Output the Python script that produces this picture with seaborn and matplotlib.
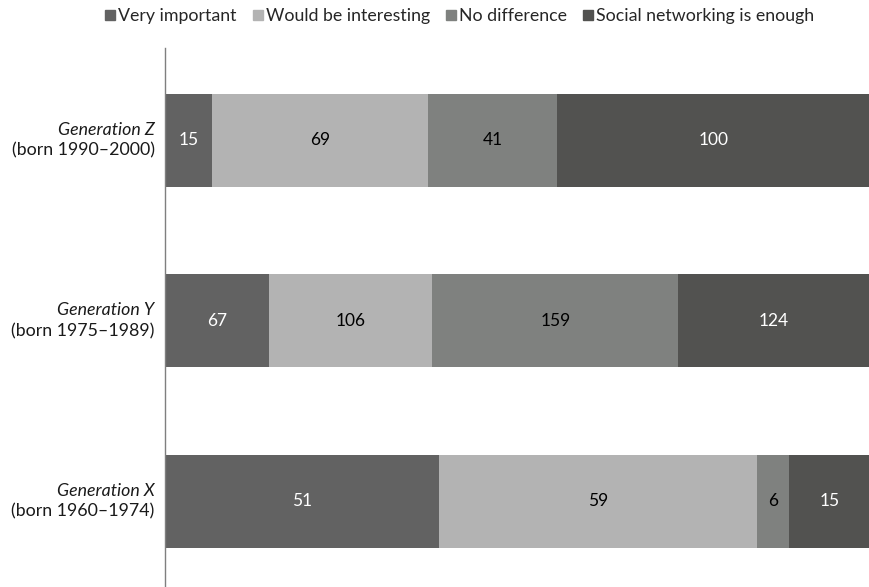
import matplotlib
matplotlib.use("Agg")
import matplotlib.pyplot as plt
import seaborn as sns
import pandas as pd
import numpy as np
from matplotlib.lines import Line2D

sns.set_theme(style="white")
plt.rcParams["font.family"] = ["Lato", "DejaVu Sans"]

generations = ["Generation Z", "Generation Y", "Generation X"]
born = ["(born 1990\u20132000)", "(born 1975\u20131989)", "(born 1960\u20131974)"]
series = ["Very important", "Would be interesting", "No difference", "Social networking is enough"]
very_important = [15, 67, 51]
would_be_interesting = [69, 106, 59]
no_difference = [41, 159, 6]
social_enough = [100, 124, 15]

colors = ["#626262", "#b3b3b3", "#7f817f", "#525250"]
text_colors = ["white", "black", "black", "white"]

counts = np.array([very_important, would_be_interesting, no_difference, social_enough], dtype=float)
shares = counts / counts.sum(axis=0) * 100
cum = np.cumsum(shares, axis=0)

fig = plt.figure(figsize=(8.7, 5.87), dpi=100)
ax = fig.add_axes([165 / 870, 0.0, 1 - 165 / 870, 1 - 48 / 587])

# stacked 100% bars: draw the widest cumulative bar first, then overlay
for i in range(len(series) - 1, -1, -1):
    df = pd.DataFrame({"gen": generations, "cum": cum[i]})
    sns.barplot(data=df, x="cum", y="gen", orient="h", color=colors[i],
                saturation=1, width=0.515, ax=ax, edgecolor="none", linewidth=0)

# value labels centred in each segment
for i in range(len(series)):
    for j in range(len(generations)):
        center = cum[i, j] - shares[i, j] / 2
        ax.text(center, j, f"{int(counts[i, j])}", ha="center", va="center",
                color=text_colors[i], fontsize=12.5)

ax.set_xlim(0, 100)
ax.set_ylim(2.476, -0.51)
ax.set_xlabel("")
ax.set_ylabel("")
ax.set_xticks([])
ax.set_yticks(range(len(generations)))
ax.set_yticklabels([])
ax.tick_params(axis="y", length=0)
for side in ["top", "right", "bottom"]:
    ax.spines[side].set_visible(False)
ax.spines["left"].set_color("#7f7f7f")
ax.spines["left"].set_linewidth(1.0)

# two-line category labels: italic generation name, plain birth years
for j in range(len(generations)):
    ax.annotate(generations[j], xy=(0, j), xycoords=("axes fraction", "data"),
                xytext=(-7.5, 7.5), textcoords="offset points",
                ha="right", va="center", fontsize=12.8, style="italic", color="#1a1a1a")
    ax.annotate(born[j], xy=(0, j), xycoords=("axes fraction", "data"),
                xytext=(-7.5, -7.5), textcoords="offset points",
                ha="right", va="center", fontsize=12.8, color="#1a1a1a")

handles = [Line2D([0], [0], marker="s", linestyle="none", markersize=6.5,
                  markerfacecolor=c, markeredgecolor=c) for c in colors]
fig.legend(handles, series, loc="center", bbox_to_anchor=(0.527, 0.972), ncol=4,
           frameon=False, fontsize=12.8, handletextpad=0.05, columnspacing=0.8,
           handlelength=0.8)

fig.savefig("out.png", dpi=100)
